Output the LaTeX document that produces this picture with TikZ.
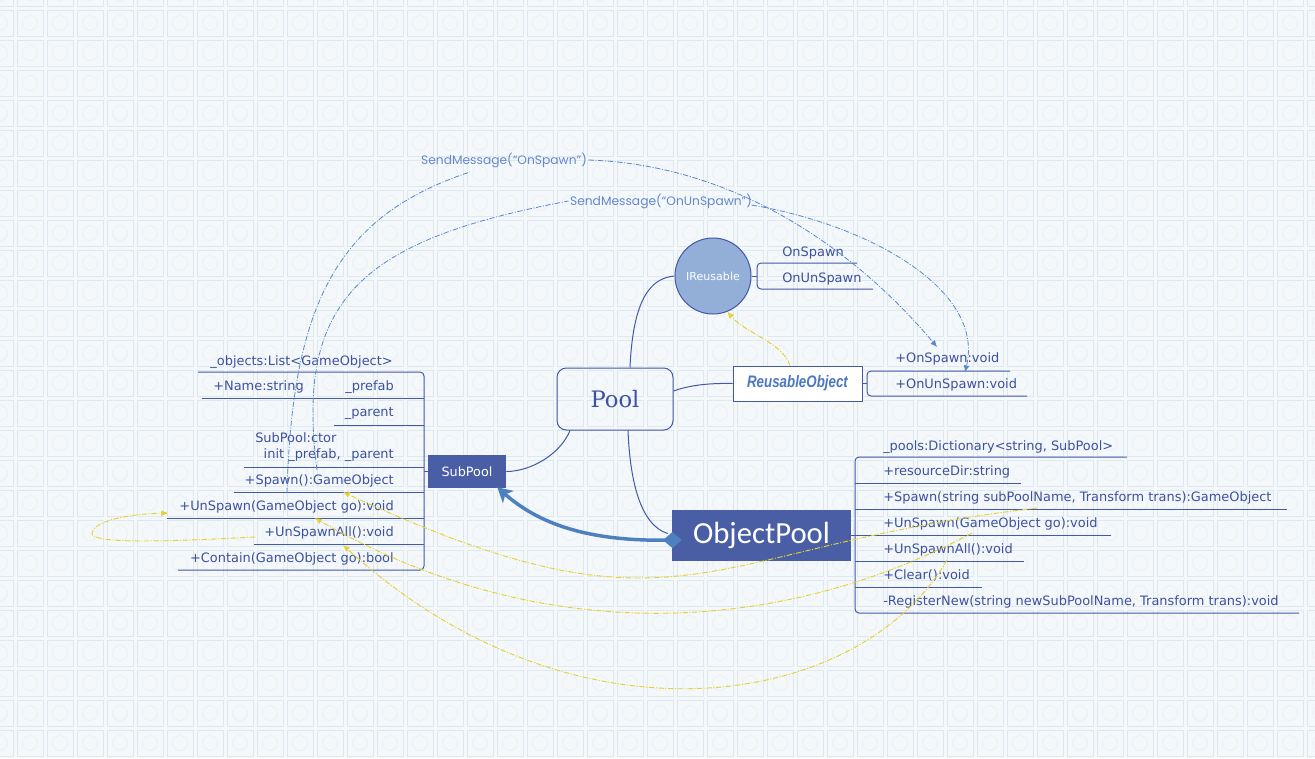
\documentclass[tikz,border=0pt]{standalone}
\usepackage{fontspec}
\usepackage{graphicx}
\setmainfont{DejaVu Sans}
\newfontfamily\poolfont{DejaVu Serif}
\newfontfamily\opfont{Carlito}
\newfontfamily\msgfont{Poppins}
\newfontfamily\rofont{Liberation Sans}
\usetikzlibrary{arrows.meta}
\definecolor{boxblue}{RGB}{74,94,166}
\definecolor{linec}{RGB}{68,88,168}
\definecolor{txtc}{RGB}{62,80,160}
\definecolor{circfill}{RGB}{147,175,216}
\definecolor{thickc}{RGB}{76,128,192}
\definecolor{dashblue}{RGB}{90,135,205}
\definecolor{msgc}{RGB}{100,135,205}
\definecolor{yel}{RGB}{230,208,50}
\definecolor{bgc}{RGB}{244,248,250}
\definecolor{tilec}{RGB}{222,233,239}
\definecolor{tilec2}{RGB}{232,240,244}
\definecolor{roc}{RGB}{74,120,195}
\tikzset{
  mem/.style={font=\fontsize{9.7}{11}\selectfont, text=txtc, inner sep=0pt},
  brl/.style={draw=linec, line width=0.75pt},
  conn/.style={draw=linec, line width=0.75pt},
  darkbox/.style={fill=boxblue, text=white, inner sep=0pt},
  ydash/.style={draw=yel, line width=0.7pt, dash pattern=on 4pt off 1.2pt on 0.8pt off 1.2pt, -{Latex[length=5pt,width=4.5pt]}},
  bdash/.style={draw=dashblue, line width=0.6pt, dash pattern=on 4pt off 1.2pt on 0.8pt off 1.2pt},
  bdasharr/.style={bdash, -{Latex[length=5pt,width=4.5pt]}},
  msg/.style={font=\msgfont\fontsize{9.2}{10}\selectfont, text=msgc, inner sep=1pt}
}
\begin{document}
\begin{tikzpicture}[x=0.75pt, y=-0.75pt]
\useasboundingbox (0,0) rectangle (1315,758);
% background tiles
\begin{scope}
\clip (0,0) rectangle (1315,758);
\fill[bgc] (0,0) rectangle (1315,758);
\foreach \i in {0,...,44} {
  \foreach \j in {0,...,26} {
    \draw[tilec, line width=0.45pt] ({30*\i-13},{30*\j-20}) rectangle ({30*\i+13},{30*\j+6});
    \draw[tilec2, line width=0.5pt] ({30*\i},{30*\j-7}) circle[radius=7.5];
  }
}
\end{scope}

% main nodes
\node[draw=linec, line width=0.75pt, rounded corners=7pt, minimum width=87pt, minimum height=46.5pt,
      font=\poolfont\fontsize{17}{20}\selectfont, text=txtc] (pool) at (615,399) {Pool};
\node[darkbox, minimum width=58.5pt, minimum height=24.75pt, font=\fontsize{9.6}{11}\selectfont] (subpool) at (467,471.5) {SubPool};
\node[darkbox, minimum width=134.25pt, minimum height=38.25pt, font=\opfont\fontsize{23}{25}\selectfont] (objpool) at (761.5,535.5) {ObjectPool};
\node[circle, fill=circfill, draw=linec, line width=0.75pt, minimum size=57pt, inner sep=0pt,
      text=white, font=\fontsize{8.3}{10}\selectfont] (ireus) at (713,276) {IReusable};
\node[draw=linec, fill=white, line width=0.75pt, minimum width=96.75pt, minimum height=26.25pt, inner sep=0pt,
      text=roc, font=\rofont\bfseries\itshape\fontsize{12.5}{14}\selectfont] (reus) at (797.5,383.5) {\scalebox{0.8}[1]{ReusableObject}};

% SubPool members
\node[mem, anchor=base east] (sp0) at (393,365.5) {\_objects:List<GameObject>};
\node[mem, anchor=base west] (sp1) at (213,390.5) {+Name:string};
\node[mem, anchor=base east] (sp2) at (394,390.5) {\_prefab};
\node[mem, anchor=base east] (sp3) at (394,416.5) {\_parent};
\node[mem, anchor=base west] (sp4) at (255,442.5) {SubPool:ctor};
\node[mem, anchor=base east] (sp5) at (394,458.5) {init \_prefab, \_parent};
\node[mem, anchor=base east] (sp6) at (394,484.5) {+Spawn():GameObject};
\node[mem, anchor=base east] (sp7) at (394,510.5) {+UnSpawn(GameObject go):void};
\node[mem, anchor=base east] (sp8) at (394,536.5) {+UnSpawnAll():void};
\node[mem, anchor=base east] (sp9) at (394,562.5) {+Contain(GameObject go):bool};
\draw[brl, rounded corners=3pt] (198,372) -- (424,372) -- (424,570) -- (178,570);
\draw[brl] (202,398) -- (424,398);
\draw[brl] (334,425) -- (424,425);
\draw[brl] (244,467) -- (424,467);
\draw[brl] (234,492) -- (424,492);
\draw[brl] (167,518) -- (424,518);
\draw[brl] (254,544) -- (424,544);
\draw[brl] (424,471.5) -- (subpool.west);

% ObjectPool members
\node[mem, anchor=base west] (op0) at (883,450.5) {\_pools:Dictionary<string, SubPool>};
\node[mem, anchor=base west] (op1) at (883,475.5) {+resourceDir:string};
\node[mem, anchor=base west] (op2) at (883,501.5) {+Spawn(string subPoolName, Transform trans):GameObject};
\node[mem, anchor=base west] (op3) at (883,527.5) {+UnSpawn(GameObject go):void};
\node[mem, anchor=base west] (op4) at (883,553.5) {+UnSpawnAll():void};
\node[mem, anchor=base west] (op5) at (883,579.5) {+Clear():void};
\node[mem, anchor=base west] (op6) at (883,605.5) {-RegisterNew(string newSubPoolName, Transform trans):void};
\draw[brl, rounded corners=3pt] (1127,457) -- (855,457) -- (855,613) -- (1299,613);
\draw[brl] (855,483) -- (1021,483);
\draw[brl] (855,509) -- (1287,509);
\draw[brl] (objpool.east) -- (1111,535.5);
\draw[brl] (855,561) -- (1024,561);
\draw[brl] (855,587) -- (982,587);

% IReusable members
\node[mem, anchor=base west] (ir0) at (782,256.5) {OnSpawn};
\node[mem, anchor=base west] (ir1) at (782,282.5) {OnUnSpawn};
\draw[brl, rounded corners=3pt] (857,263) -- (757,263) -- (757,289) -- (873,289);
\draw[brl] (ireus.east) -- (757,276);

% ReusableObject members
\node[mem, anchor=base west] (ro0) at (895,362.5) {+OnSpawn:void};
\node[mem, anchor=base west] (ro1) at (895,388.5) {+OnUnSpawn:void};
\draw[brl, rounded corners=3pt] (1010,371) -- (867,371) -- (867,396) -- (1027,396);
\draw[brl] (reus.east) -- (867,383.5);

% connectors from Pool
\draw[conn] ([shift={(15,0)}]pool.north) .. controls (633,300) and (650,278) .. (ireus.west);
\draw[conn] ([shift={(0,-8)}]pool.east) .. controls (690,385) and (710,383) .. (reus.west);
\draw[conn] ([shift={(-45,0)}]pool.south) .. controls (560,455) and (530,471.5) .. (subpool.east);
\draw[conn] ([shift={(13,0)}]pool.south) .. controls (630,480) and (640,525) .. ([shift={(-4,-2)}]objpool.west);

% thick aggregation arrow
\draw[thickc, line width=2.6pt, {Diamond[length=14pt,width=12pt]}-{Stealth[length=11pt,width=12pt,inset=3pt]}]
  ([shift={(10,4.5)}]objpool.west) .. controls (590,541) and (540,525) .. ([shift={(-9,-1)}]subpool.south east);

% message labels
\node[msg] (msg1) at (504,160) {SendMessage(“OnSpawn”)};
\node[msg] (msg2) at (661,201) {SendMessage(“OnUnSpawn”)};

% coordinates for free ends
\coordinate (a1) at (287,493);
\coordinate (a2) at (317,470);
\coordinate (t1) at (937,347);
\coordinate (t2) at (965,372);

% blue dashed message curves
\draw[bdash] (a1) .. controls (292,300) and (340,215) .. ([shift={(-34,3)}]msg1.south);
\draw[bdasharr] (msg1.east) .. controls (740,165) and (860,255) .. (t1);
\draw[bdash] (a2) .. controls (295,300) and (360,240) .. (msg2.west);
\draw[bdasharr] ([shift={(-2,4)}]msg2.east) .. controls (870,225) and (985,290) .. (t2);

% yellow dashed curves
\coordinate (ys) at (1037,508);
\coordinate (yu) at (972,533);
\coordinate (ya) at (947,560);
\coordinate (es) at (343,492);
\coordinate (eu) at (315,518);
\coordinate (ea) at (343,545);
\coordinate (ls) at (255,537);
\coordinate (le) at (168,513);
\draw[ydash] ([shift={(-7.5,0)}]reus.north) .. controls (782,342) and (745,333) .. (ireus.-68);
\draw[ydash] (ys) .. controls (695,548) and (685,650) .. (es);
\draw[ydash] (yu) .. controls (771,640) and (533,644) .. (eu);
\draw[ydash] (ya) .. controls (861,709) and (576,757) .. (ea);
\draw[ydash] (ls) .. controls (180,541) and (90,545) .. (92,533) .. controls (95,520) and (130,514) .. (le);
\end{tikzpicture}
\end{document}
